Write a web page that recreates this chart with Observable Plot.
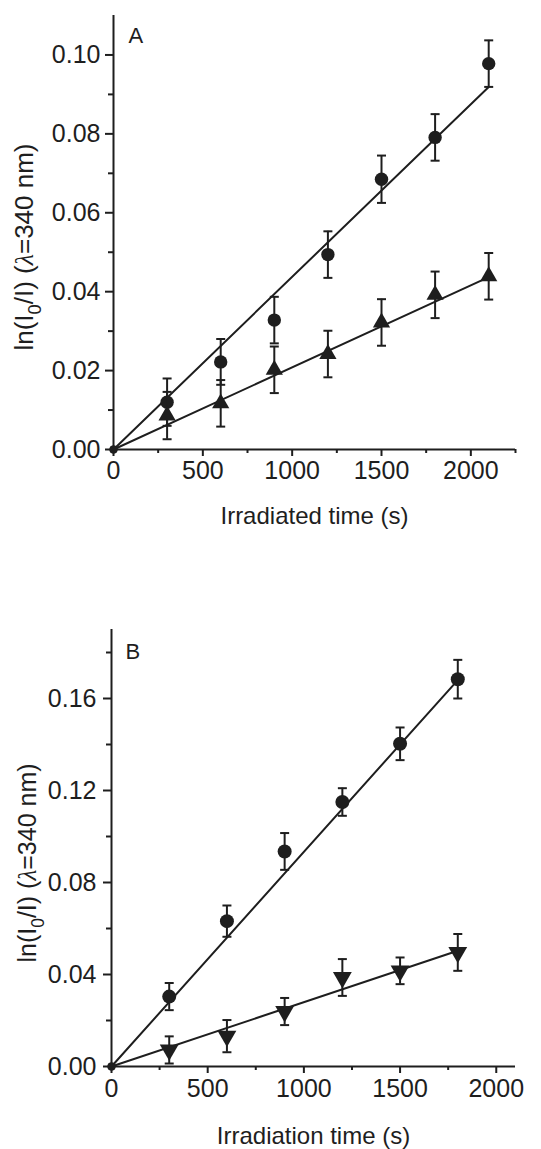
<!DOCTYPE html>
<html><head><meta charset="utf-8">
<script src="https://cdn.jsdelivr.net/npm/d3@7"></script>
<script src="https://cdn.jsdelivr.net/npm/@observablehq/plot@0.6"></script>
<style>
body{margin:0;background:#fff;}
#chart{width:541px;}
#chart svg{display:block;overflow:visible;}
</style>
</head><body><div id="chart"></div>
<script>
// ---------- Panel A data ----------
const timeA = [0, 300, 600, 900, 1200, 1500, 1800, 2100];
const circleA = [0, 0.0120, 0.0222, 0.0328, 0.0494, 0.0685, 0.0791, 0.0978];
const circleAErr = [0, 0.0060, 0.0058, 0.0059, 0.0059, 0.0060, 0.0059, 0.0059];
const triA = [0, 0.0086, 0.0117, 0.0202, 0.0242, 0.0322, 0.0392, 0.0439];
const triAErr = [0, 0.0060, 0.0059, 0.0059, 0.0059, 0.0059, 0.0059, 0.0059];
const fitTimeA = [0, 2100];
const fitCircleA = [0, 0.0919];
const fitTriA = [0, 0.0437];
const yMajorA = [0, 0.02, 0.04, 0.06, 0.08, 0.10];
const yMinorA = [0.01, 0.03, 0.05, 0.07, 0.09];
const xMajorA = [0, 500, 1000, 1500, 2000];
const xMinorA = [250, 750, 1250, 1750, 2250];

// ---------- Panel B data ----------
const timeB = [0, 300, 600, 900, 1200, 1500, 1800];
const circleB = [0, 0.0304, 0.0632, 0.0935, 0.1150, 0.1403, 0.1684];
const circleBErr = [0, 0.0059, 0.0068, 0.0080, 0.0060, 0.0071, 0.0084];
const triB = [0, 0.0072, 0.0132, 0.0239, 0.0387, 0.0416, 0.0496];
const triBErr = [0, 0.0059, 0.0070, 0.0059, 0.0080, 0.0058, 0.0080];
const fitTimeB = [0, 1800];
const fitCircleB = [0, 0.168];
const fitTriB = [0, 0.0503];
const yMajorB = [0, 0.04, 0.08, 0.12, 0.16];
const yMinorB = [0.02, 0.06, 0.10, 0.14, 0.18];
const xMajorB = [0, 500, 1000, 1500, 2000];
const xMinorB = [250, 750, 1250, 1750];

const INK = "#1e1e1e";
const FONT = "'Liberation Sans', Arial, Helvetica, sans-serif";

const rows = (xs, ys, es) => xs.map((x, i) => ({x, y: ys[i], e: es[i]}));
const fitRows = (xs, ys) => xs.map((x, i) => ({x, y: ys[i]}));

const capSymbol = {draw(ctx) { ctx.moveTo(-4.5, 0); ctx.lineTo(4.5, 0); }};
const triDown = {draw(ctx, size) {
  const y = Math.sqrt(size / (Math.sqrt(3) * 3));
  ctx.moveTo(0, 2 * y);
  ctx.lineTo(-Math.sqrt(3) * y, -y);
  ctx.lineTo(Math.sqrt(3) * y, -y);
  ctx.closePath();
}};

function seriesMarks(data, fit, symbol, r) {
  const pts = data.filter(d => d.x > 0);
  return [
    Plot.line(fit, {x: "x", y: "y", stroke: INK, strokeWidth: 2}),
    Plot.ruleX(pts, {x: "x", y1: d => d.y - d.e, y2: d => d.y + d.e, stroke: INK, strokeWidth: 2}),
    Plot.dot(pts, {x: "x", y: d => d.y + d.e, symbol: capSymbol, stroke: INK, strokeWidth: 2, fill: "none"}),
    Plot.dot(pts, {x: "x", y: d => d.y - d.e, symbol: capSymbol, stroke: INK, strokeWidth: 2, fill: "none"}),
    Plot.dot(pts, {x: "x", y: "y", symbol, r, fill: INK, stroke: "none"}),
    Plot.dot(data.filter(d => d.x === 0), {x: "x", y: "y", r: 4, fill: INK, stroke: "none"})
  ];
}

function panel(o) {
  return Plot.plot({
    width: 541, height: o.height,
    marginTop: o.mt, marginBottom: o.mb, marginLeft: o.ml, marginRight: o.mr,
    style: {fontFamily: FONT, fontSize: "25px", color: INK, background: "#fff"},
    x: {domain: o.xDomain, axis: null},
    y: {domain: o.yDomain, axis: null},
    marks: [
      Plot.ruleX([0], {stroke: INK, strokeWidth: 2}),
      Plot.ruleY([0], {stroke: INK, strokeWidth: 2}),
      Plot.axisY(o.yMajor, {tickSize: 8, tickPadding: o.yPad, strokeWidth: 2, tickFormat: d3.format(".2f"), label: null, fill: INK, fontSize: 25}),
      Plot.axisY(o.yMinor, {tickSize: 5, strokeWidth: 2, tickFormat: () => "", label: null}),
      Plot.axisX(o.xMajor, {tickSize: 7, tickPadding: o.xPad, strokeWidth: 2, tickFormat: d3.format("d"), label: null, fill: INK, fontSize: 25}),
      Plot.axisX(o.xMinor, {tickSize: 4, strokeWidth: 2, tickFormat: () => "", label: null}),
      ...o.marks,
      Plot.text([o.xLabel], {frameAnchor: "bottom", dy: o.xLabelDy, lineAnchor: "middle", fontSize: 24, fill: INK}),
      Plot.text([o.tag], {frameAnchor: "top-left", dx: o.tagDx, dy: o.tagDy, lineAnchor: "top", textAnchor: "start", fontSize: 22, fill: INK})
    ]
  });
}

function addYLabel(svg, x, y, size) {
  const t = d3.select(svg).append("text")
    .attr("transform", `translate(${x},${y}) rotate(-90)`)
    .attr("text-anchor", "middle")
    .attr("font-size", size)
    .attr("font-family", FONT)
    .attr("fill", INK);
  t.append("tspan").text("ln(I");
  t.append("tspan").attr("font-size", size * 0.7).attr("dy", size * 0.3).text("0");
  t.append("tspan").attr("dy", -size * 0.3).text("/I) (");
  t.append("tspan").attr("font-family", "'Liberation Serif', serif").attr("font-style", "italic").text("λ");
  t.append("tspan").text("=340 nm)");
}

const chartA = panel({
  height: 545, mt: 15, mb: 96, ml: 113, mr: 26,
  xDomain: [0, 2250], yDomain: [0, 0.11],
  yMajor: yMajorA, yMinor: yMinorA, xMajor: xMajorA, xMinor: xMinorA,
  yPad: 5, xPad: 5,
  xLabel: "Irradiated time (s)", xLabelDy: 67,
  tag: "A", tagDx: 15, tagDy: 12,
  marks: [
    ...seriesMarks(rows(timeA, circleA, circleAErr), fitRows(fitTimeA, fitCircleA), "circle", 6.7),
    ...seriesMarks(rows(timeA, triA, triAErr), fitRows(fitTimeA, fitTriA), "triangle", 6.4)
  ]
});
addYLabel(chartA, 33, 247, 26);

const chartB = panel({
  height: 604, mt: 84, mb: 83, ml: 111, mr: 26,
  xDomain: [0, 2100], yDomain: [0, 0.19],
  yMajor: yMajorB, yMinor: yMinorB, xMajor: xMajorB, xMinor: xMinorB,
  yPad: 7, xPad: 6,
  xLabel: "Irradiation time (s)", xLabelDy: 70,
  tag: "B", tagDx: 14, tagDy: 14,
  marks: [
    ...seriesMarks(rows(timeB, circleB, circleBErr), fitRows(fitTimeB, fitCircleB), "circle", 7),
    ...seriesMarks(rows(timeB, triB, triBErr), fitRows(fitTimeB, fitTriB), triDown, 7)
  ]
});
addYLabel(chartB, 36, 318, 25);

document.getElementById("chart").append(chartA, chartB);
</script>
</body></html>
